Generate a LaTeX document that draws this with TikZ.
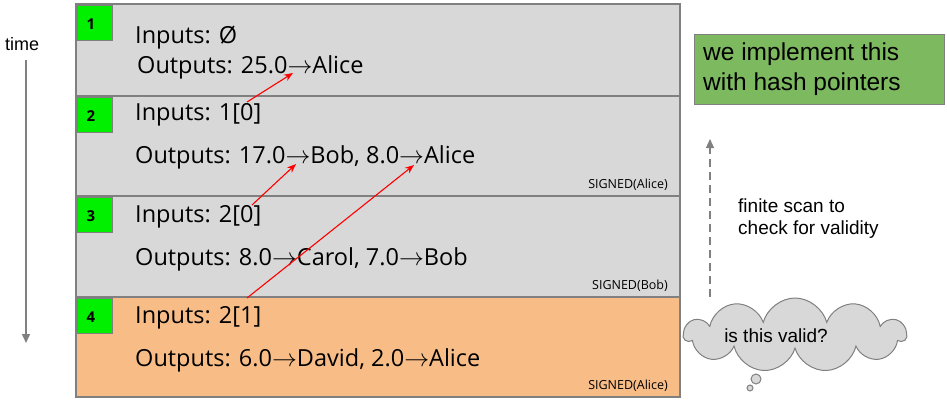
\documentclass[tikz,border=0pt]{standalone}
\usepackage{fontspec}
\setmainfont{Open Sans}
\newfontfamily\arialfont{Liberation Sans}
\usetikzlibrary{arrows.meta,shapes.symbols}
\definecolor{rowgrey}{RGB}{216,216,216}
\definecolor{roworange}{RGB}{248,189,135}
\definecolor{edgegrey}{RGB}{128,128,128}
\definecolor{numgreen}{RGB}{0,240,0}
\definecolor{notegreen}{RGB}{125,185,95}
\newcommand{\ra}{$\rightarrow$}

\begin{document}
\begin{tikzpicture}[x=1pt, y=-1pt,
  txrow/.style={draw=edgegrey, line width=1.5pt, anchor=north west, inner sep=0pt, minimum width=604pt},
  numbox/.style={fill=numgreen, draw=edgegrey, line width=0.4pt, anchor=north west, inner sep=0pt, minimum width=35pt, minimum height=35pt},
  numtext/.style={font=\fontsize{15}{17}\selectfont\bfseries},
  txtext/.style={anchor=base west, inner sep=0pt, font=\fontsize{23.5}{27}\selectfont},
  sigtext/.style={anchor=base east, inner sep=0pt, font=\fontsize{12.5}{14}\selectfont},
  Zeiger/.style={red, line width=1.1pt, arrows = -{Stealth[length=9pt,width=7pt]}},
  Grau/.style={edgegrey, line width=1.5pt, arrows = -{Triangle[length=9pt,width=8pt]}}]
\useasboundingbox (0,0) rectangle (947,400);
% transaction rows
\node[txrow, fill=rowgrey, minimum height=92pt] (r1) at (75,3) {};
\node[txrow, fill=rowgrey, minimum height=100pt] (r2) at (75,95) {};
\node[txrow, fill=rowgrey, minimum height=101pt] (r3) at (75,195) {};
\node[txrow, fill=roworange, minimum height=100pt] (r4) at (75,296) {};
% numbers
\node[numbox] (n1) at (77,5) {};
\node[numbox] (n2) at (77,97) {};
\node[numbox] (n3) at (77,197) {};
\node[numbox] (n4) at (77,298) {};
\node[numtext] at (91,24) {1};
\node[numtext] at (91,116) {2};
\node[numtext] at (91,216) {3};
\node[numtext] at (91,317) {4};
% inputs and outputs
\node[txtext] (i1) at (135,43) {Inputs: Ø};
\node[txtext] (o1) at (137,73) {Outputs: 25.0\ra Alice};
\node[txtext] (i2) at (135,120) {Inputs: 1[0]};
\node[txtext] (o2) at (135,163) {Outputs: 17.0\ra Bob, 8.0\ra Alice};
\node[txtext] (i3) at (135,222) {Inputs: 2[0]};
\node[txtext] (o3) at (135,265) {Outputs: 8.0\ra Carol, 7.0\ra Bob};
\node[txtext] (i4) at (135,323) {Inputs: 2[1]};
\node[txtext] (o4) at (135,366) {Outputs: 6.0\ra David, 2.0\ra Alice};
\node[sigtext] (s2) at (668,188) {SIGNED(Alice)};
\node[sigtext] (s3) at (668,289) {SIGNED(Bob)};
\node[sigtext] (s4) at (668,389) {SIGNED(Alice)};
% hash pointers
\coordinate (p2) at (247,102);
\coordinate (q1) at (293,73);
\coordinate (p3) at (252,205);
\coordinate (q2a) at (296,164);
\coordinate (p4) at (247,298);
\coordinate (q2b) at (414,165);
\draw[Zeiger] (p2) -- (q1);
\draw[Zeiger] (p3) -- (q2a);
\draw[Zeiger] (p4) -- (q2b);
% time axis
\node[anchor=west, inner sep=0pt, font=\arialfont\fontsize{18}{21}\selectfont] (time) at (5,44) {time};
\coordinate (t0) at (26,60);
\coordinate (t1) at (26,343);
\draw[Grau] (t0) -- (t1);
% right-hand notes
\node[fill=notegreen, draw=edgegrey, line width=0.8pt, anchor=north west, minimum width=250pt, minimum height=70pt, inner sep=0pt] (hp) at (694,34) {};
\node[anchor=west, align=left, inner sep=0pt, font=\arialfont\fontsize{24.5}{30}\selectfont] (hptext) at (703,69) {we implement this\\with hash pointers};
\node[cloud, cloud puffs=11, aspect=3.2, fill=rowgrey, draw=edgegrey, line width=1pt, minimum width=222pt, minimum height=74pt, inner sep=0pt] (cl) at (795,335) {};
\node[font=\arialfont\fontsize{19}{22}\selectfont, inner sep=0pt] (cltext) at (776,336) {is this valid?};
\draw[fill=rowgrey, draw=edgegrey, line width=1pt] (756,379) circle (5);
\draw[fill=rowgrey, draw=edgegrey, line width=1pt] (750,388) circle (3);
\coordinate (d0) at (710,297);
\coordinate (d1) at (710,139);
\draw[Grau, dash pattern=on 8pt off 5pt, line width=1.2pt] (d0) -- (d1);
\node[anchor=west, align=left, inner sep=0pt, font=\arialfont\fontsize{19}{22}\selectfont] (scan) at (738,219) {finite scan to\\check for validity};
\end{tikzpicture}
\end{document}
